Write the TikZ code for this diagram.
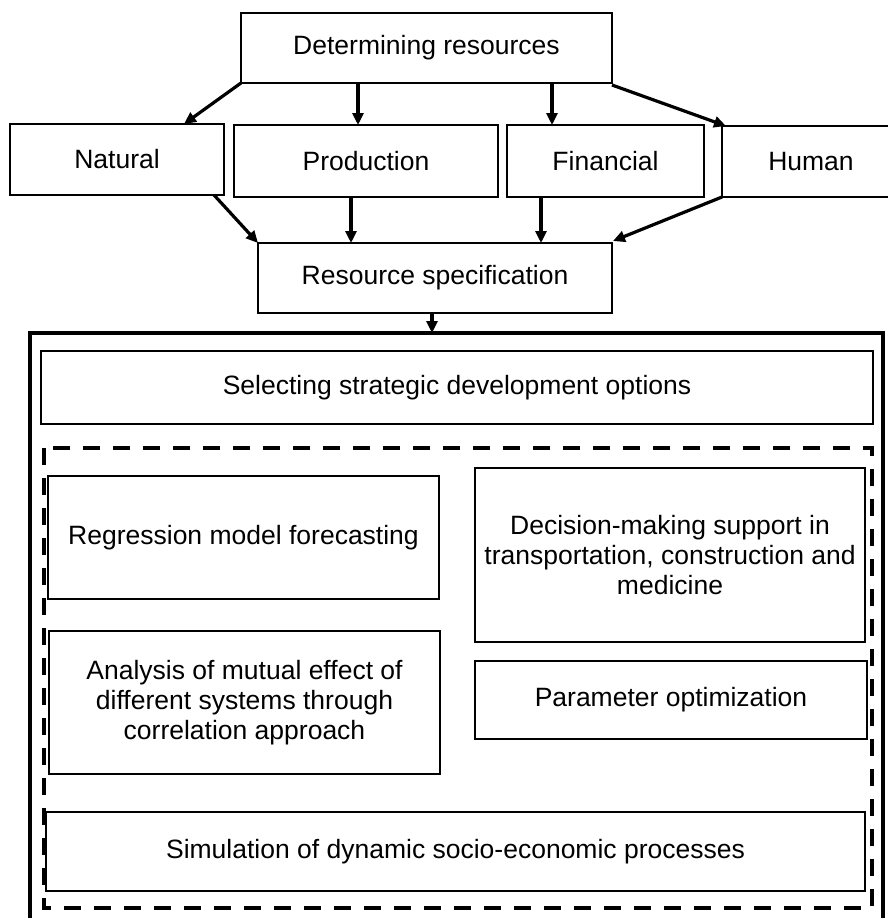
\documentclass[tikz,border=0pt]{standalone}
\usepackage{fontspec}
\setmainfont{Liberation Sans}
\usetikzlibrary{arrows.meta}
\tikzset{
  box/.style={draw=black, line width=1.6pt, fill=white, inner sep=0pt, outer sep=0pt, align=center,
    font=\fontsize{26.5}{30}\selectfont},
  arr/.style={line width=3.2pt, -{Triangle[length=12pt,width=11pt]}},
  topline/.style={line width=2.8pt},
  outerbox/.style={draw=black, line width=3.8pt},
  dashbox/.style={draw=black, line width=3.8pt, dash pattern=on 17pt off 13pt},
}
\begin{document}
\begin{tikzpicture}[x=1pt,y=-1pt]
\useasboundingbox (0,0) rectangle (888,918);
\clip (0,0) rectangle (888,918);
\fill[white] (0,0) rectangle (888,918);

% top boxes
\node[box, minimum width=371pt, minimum height=70pt] (det) at (426.5,48) {Determining resources};
\node[box, minimum width=214pt, minimum height=71pt] (nat) at (117,159.5) {Natural};
\node[box, minimum width=264pt, minimum height=72pt] (prod) at (366,161) {Production};
\node[box, minimum width=197pt, minimum height=72pt] (fin) at (605.5,161) {Financial};
\node[box, minimum width=178pt, minimum height=71pt, text width=178pt] (hum) at (811,161.5) {Human};
\node[box, minimum width=354pt, minimum height=70pt] (spec) at (435,278) {Resource specification};

% thick top edges
\coordinate (t1) at (19,0);  \coordinate (t2) at (214,0);
\coordinate (t3) at (236,0); \coordinate (t4) at (498,0);
\coordinate (t5) at (515,0); \coordinate (t6) at (702,0);
\coordinate (t7) at (728,0); \coordinate (t8) at (864,0);
\draw[topline] (nat.north -| t1) -- (nat.north -| t2);
\draw[topline] (prod.north -| t3) -- (prod.north -| t4);
\draw[topline] (fin.north -| t5) -- (fin.north -| t6);
\draw[topline] (hum.north -| t7) -- (hum.north -| t8);

% arrows from determining resources
\coordinate (a1) at (358,0);
\coordinate (a2) at (552,0);
\draw[arr] (det.south west) -- ([xshift=67pt]nat.north);
\draw[arr] (det.south -| a1) -- (prod.north -| a1);
\draw[arr] (det.south -| a2) -- (fin.north -| a2);
\draw[arr] ([yshift=-2pt]det.south east) -- ([xshift=4pt]hum.north west);

% arrows into resource specification
\coordinate (b1) at (351,0);
\coordinate (b2) at (541,0);
\draw[arr] ([xshift=-10pt]nat.south east) -- (spec.north west);
\draw[arr] (prod.south -| b1) -- (spec.north -| b1);
\draw[arr] (fin.south -| b2) -- (spec.north -| b2);
\draw[arr] (hum.south west) -- ([xshift=1pt,yshift=2pt]spec.north east);

% outer frame
\coordinate (ob) at (30,333);
\coordinate (oe) at (883,940);
\draw[outerbox] (ob) rectangle (oe);
\coordinate (c1) at (432,0);
\draw[arr] (spec.south -| c1) -- (ob -| c1);

\node[box, minimum width=832pt, minimum height=73pt] (sel) at (457,387.5) {Selecting strategic development options};

% dashed frame
\coordinate (db) at (44,448);
\coordinate (de) at (872,908);
\draw[dashbox] (db) rectangle (de);

\node[box, minimum width=391pt, minimum height=123pt] (reg) at (243.5,537.5) {Regression model forecasting};
\node[box, minimum width=390pt, minimum height=174pt] (dec) at (670,555) {Decision-making support in\\transportation, construction and\\medicine};
\node[box, minimum width=391pt, minimum height=143pt] (ana) at (244.5,702.5) {Analysis of mutual effect of\\different systems through\\correlation approach};
\node[box, minimum width=392pt, minimum height=78pt] (par) at (671,700) {Parameter optimization};
\node[box, minimum width=819pt, minimum height=79pt] (sim) at (455.5,851.5) {Simulation of dynamic socio-economic processes};
\end{tikzpicture}
\end{document}
